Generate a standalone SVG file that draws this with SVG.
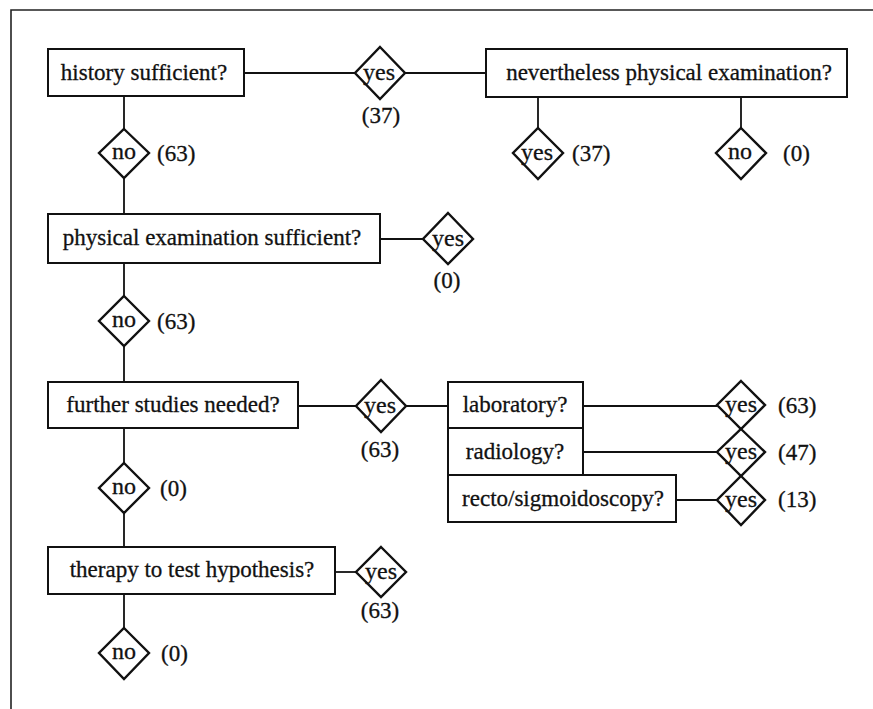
<svg xmlns="http://www.w3.org/2000/svg" width="873" height="709" viewBox="0 0 873 709">
<style>
.box{fill:#fff;stroke:#111;stroke-width:2}
.dia{fill:#fff;stroke:#111;stroke-width:2.4}
.ln{stroke:#111;stroke-width:1.8;fill:none}
.frame{stroke:#222;stroke-width:1.6;fill:none}
text{font-family:"Liberation Serif","Times New Roman",serif;font-size:23px;fill:#111;stroke:#111;stroke-width:0.3}
.c{text-anchor:middle}
.y{font-size:24px}
.n{font-size:24px}
</style>
<rect width="873" height="709" fill="#fff"/>
<path class="frame" d="M11,709 V10 H873"/>
<g id="connectors">
<path class="ln" d="M124,96 V129 M124,178 V214 M124,263 V296 M124,346 V382 M124,428 V463 M124,513 V547 M124,594 V628"/>
<path class="ln" d="M244,73 H355 M405,73 H486 M538,97 V128 M741,97 V128"/>
<path class="ln" d="M380,239 H423"/>
<path class="ln" d="M298,406 H356 M406,406 H448 M583,406 H717 M583,452 H717 M676,500 H717"/>
<path class="ln" d="M335,572 H357"/>
</g>
<g id="n-history"><rect class="box" x="48" y="49" width="196" height="47"/><text class="c" x="144" y="80">history sufficient?</text></g>
<g id="d-yes1"><polygon class="dia" points="380,47 405,73 380,99 355,73"/><text class="c y" x="379" y="80">yes</text><text class="c" x="381" y="123">(37)</text></g>
<g id="n-nevertheless"><rect class="box" x="486" y="49" width="361" height="48"/><text class="c" x="669" y="80">nevertheless physical examination?</text></g>
<g id="d-yes2"><polygon class="dia" points="538,128 563,153 538,179 513,153"/><text class="c y" x="537" y="160">yes</text><text x="572" y="161">(37)</text></g>
<g id="d-no1"><polygon class="dia" points="741,128 766,153 741,179 716,153"/><text class="c n" x="740" y="159">no</text><text x="783" y="161">(0)</text></g>
<g id="d-no2"><polygon class="dia" points="124,129 149,153 124,178 99,153"/><text class="c n" x="124" y="159">no</text><text x="157" y="161">(63)</text></g>
<g id="n-physical"><rect class="box" x="48" y="214" width="332" height="49"/><text class="c" x="212" y="245">physical examination sufficient?</text></g>
<g id="d-yes3"><polygon class="dia" points="448,213 473,239 448,264 423,239"/><text class="c y" x="448" y="246">yes</text><text class="c" x="447" y="288">(0)</text></g>
<g id="d-no3"><polygon class="dia" points="124,296 149,321 124,346 99,321"/><text class="c n" x="124" y="327">no</text><text x="157" y="329">(63)</text></g>
<g id="n-further"><rect class="box" x="48" y="382" width="250" height="46"/><text class="c" x="173" y="412">further studies needed?</text></g>
<g id="d-yes4"><polygon class="dia" points="381,380 406,406 381,432 356,406"/><text class="c y" x="380" y="413">yes</text><text class="c" x="380" y="457">(63)</text></g>
<g id="n-lab"><rect class="box" x="448" y="382" width="135" height="46"/><text class="c" x="515" y="412">laboratory?</text></g>
<g id="n-radiology"><rect class="box" x="448" y="428" width="135" height="47"/><text class="c" x="515" y="459">radiology?</text></g>
<g id="n-recto"><rect class="box" x="448" y="475" width="228" height="47"/><text class="c" x="563" y="506">recto/sigmoidoscopy?</text></g>
<g id="d-yes5"><polygon class="dia" points="741,381 765,405 741,429 717,405"/><text class="c y" x="741" y="412">yes</text><text x="778" y="413">(63)</text></g>
<g id="d-yes6"><polygon class="dia" points="741,429 765,452 741,476 717,452"/><text class="c y" x="741" y="459">yes</text><text x="778" y="460">(47)</text></g>
<g id="d-yes7"><polygon class="dia" points="741,476 765,500 741,525 717,500"/><text class="c y" x="741" y="507">yes</text><text x="778" y="507">(13)</text></g>
<g id="d-no4"><polygon class="dia" points="124,463 149,488 124,513 99,488"/><text class="c n" x="124" y="494">no</text><text x="160" y="496">(0)</text></g>
<g id="n-therapy"><rect class="box" x="48" y="547" width="287" height="47"/><text class="c" x="192" y="577">therapy to test hypothesis?</text></g>
<g id="d-yes8"><polygon class="dia" points="381,547 406,572 381,597 356,572"/><text class="c y" x="381" y="579">yes</text><text class="c" x="380" y="618">(63)</text></g>
<g id="d-no5"><polygon class="dia" points="124,628 149,653 124,679 99,653"/><text class="c n" x="124" y="659">no</text><text x="161" y="661">(0)</text></g>
</svg>
